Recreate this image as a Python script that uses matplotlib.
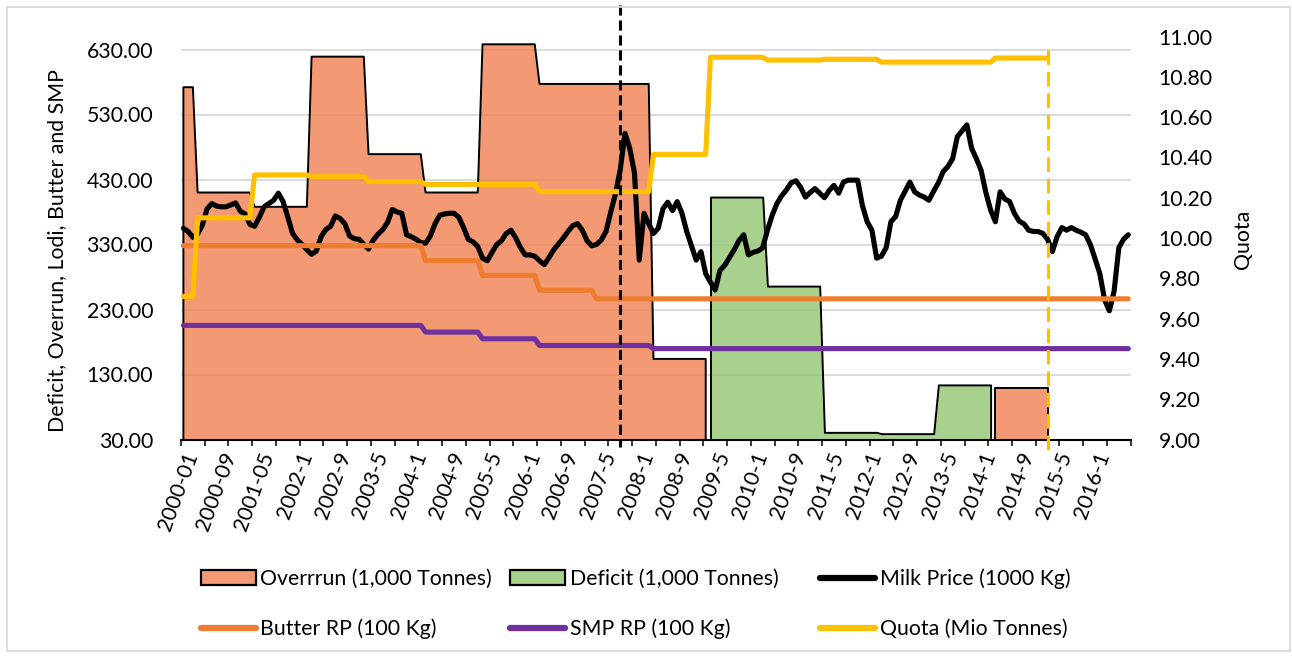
import numpy as np
import matplotlib
matplotlib.use("Agg")
import matplotlib.pyplot as plt
import matplotlib.transforms as mtransforms
from matplotlib.patches import Patch, Rectangle
from matplotlib.lines import Line2D
from matplotlib.ticker import FormatStrFormatter

plt.rcParams['font.family'] = ['Lato', 'DejaVu Sans']
FS = 15.3

# ---- data -----------------------------------------------------------------
# Monthly series from 2000-01 to 2016-08 (200 months), grouped by quota year
# (April - March).  First and last quota years are partial.
quota_year_labels = ['1999/00', '2000/01', '2001/02', '2002/03', '2003/04',
                     '2004/05', '2005/06', '2006/07', '2007/08', '2008/09',
                     '2009/10', '2010/11', '2011/12', '2012/13', '2013/14',
                     '2014/15', '2015/16', '2016/17']
months_in_chart = [3] + [12] * 16 + [5]

nan = np.nan
overrun_kt = [572, 410, 388, 619, 469, 410, 638, 577, 577, 154,
              nan, nan, nan, nan, nan, 109, nan, nan]
deficit_kt = [nan, nan, nan, nan, nan, nan, nan, nan, nan, nan,
              403, 266, 41, 39, 114, nan, nan, nan]
quota_mt = [9.71, 10.10, 10.313, 10.304, 10.28, 10.266, 10.266, 10.23, 10.23,
            10.415, 10.897, 10.883, 10.887, 10.873, 10.873, 10.893, nan, nan]
butter_rp = [328.20, 328.20, 328.20, 328.20, 328.20, 305.23, 282.44, 259.52,
             246.39, 246.39, 246.39, 246.39, 246.39, 246.39, 246.39, 246.39,
             246.39, 246.39]
smp_rp = [205.52, 205.52, 205.52, 205.52, 205.52, 195.24, 184.97, 174.69,
          174.69, 169.80, 169.80, 169.80, 169.80, 169.80, 169.80, 169.80,
          169.80, 169.80]

milk_price = [
    355, 350, 341, 346, 360, 385, 393, 389, 388, 388, 391, 394,   # 2000
    381, 377, 361, 358, 372, 388, 393, 398, 409, 396, 372, 347,   # 2001
    337, 330, 322, 315, 320, 342, 353, 358, 374, 370, 362, 343,   # 2002
    339, 338, 330, 323, 337, 346, 353, 364, 384, 380, 378, 345,   # 2003
    342, 338, 333, 332, 343, 362, 375, 377, 378, 378, 372, 356,   # 2004
    338, 334, 327, 309, 305, 318, 330, 336, 347, 352, 340, 325,   # 2005
    314, 314, 312, 305, 299, 310, 322, 331, 340, 350, 359, 362,   # 2006
    352, 336, 328, 330, 337, 350, 380, 408, 445, 501, 478, 440,   # 2007
    306, 378, 362, 347, 355, 385, 395, 382, 396, 378, 350, 328,   # 2008
    306, 319, 285, 272, 260, 290, 298, 310, 322, 336, 345, 314,   # 2009
    318, 320, 325, 352, 375, 393, 405, 414, 425, 428, 418, 403,   # 2010
    410, 416, 409, 402, 413, 421, 409, 426, 429, 429, 429, 390,   # 2011
    365, 352, 309, 312, 325, 365, 373, 398, 412, 426, 411, 406,   # 2012
    403, 398, 412, 425, 442, 450, 462, 496, 505, 514, 478, 462,   # 2013
    444, 410, 383, 365, 411, 400, 396, 378, 366, 362, 352, 350,   # 2014
    350, 347, 338, 319, 342, 356, 352, 356, 352, 349, 345, 330,   # 2015
    308, 285, 245, 228, 258, 325, 338, 345,                       # 2016
]

tick_labels = ['2000-01', '2000-09', '2001-05', '2002-1', '2002-9', '2003-5',
               '2004-1', '2004-9', '2005-5', '2006-1', '2006-9', '2007-5',
               '2008-1', '2008-9', '2009-5', '2010-1', '2010-9', '2011-5',
               '2012-1', '2012-9', '2013-5', '2014-1', '2014-9', '2015-5',
               '2016-1']
label_every = 8
tick_every = 5

marker_month = 92        # dashed black reference line (2007-09)
quota_end_month = 182    # end of the quota regime (2015-03)

# ---- monthly expansion ------------------------------------------------------
def monthly(values):
    return np.repeat(np.asarray(values, dtype=float), months_in_chart)

overrun = monthly(overrun_kt)
deficit = monthly(deficit_kt)
quota = monthly(quota_mt)
butter = monthly(butter_rp)
smp = monthly(smp_rp)
milk = np.asarray(milk_price, dtype=float)
n = len(milk)
x = np.arange(n) + 0.5          # category centres

# ---- figure -----------------------------------------------------------------
W, H = 1292, 657
fig = plt.figure(figsize=(W / 100, H / 100), dpi=100)
fig.patches.append(Rectangle((6.5 / W, 6.5 / H), (1290 - 6.5) / W, (650 - 6.5) / H,
                             transform=fig.transFigure, fill=False,
                             edgecolor='#D9D9D9', lw=1.3, zorder=0))

ax_l, ax_r, ax_t, ax_b = 181, 1130.7, 36.5, 439.5
ax = fig.add_axes([ax_l / W, 1 - ax_b / H, (ax_r - ax_l) / W, (ax_b - ax_t) / H])
ax.set_xlim(0, n)
ax.set_ylim(30, 650)
ax.set_yticks(np.arange(30, 631, 100))
ax.yaxis.set_major_formatter(FormatStrFormatter('%.2f'))
ax.yaxis.grid(True, color='#D9D9D9', lw=1.3)
ax.set_axisbelow(True)
for s in ('top', 'left', 'right'):
    ax.spines[s].set_visible(False)
ax.spines['bottom'].set_linewidth(1.5)
ax.tick_params(axis='y', length=0, pad=20, labelsize=FS)

# x axis: tick marks on category boundaries, labels on category centres
ax.set_xticks(np.arange(0, n + 1, tick_every))
ax.set_xticklabels([])
ax.tick_params(axis='x', which='major', length=4.5, width=1.1, direction='out')
ax.set_xticks(np.arange(0, n, label_every) + 0.5, minor=True)
ax.set_xticklabels(tick_labels, minor=True, rotation=70, ha='right', va='top',
                   rotation_mode='anchor', fontsize=FS)
ax.tick_params(axis='x', which='minor', length=0, pad=7)

overrun_face = (240 / 255, 128 / 255, 80 / 255, 0.8)
deficit_face = (148 / 255, 198 / 255, 114 / 255, 0.8)
ax.fill_between(x, overrun, 0, facecolor=overrun_face, edgecolor='black',
                lw=1.4, zorder=2)
ax.fill_between(x, deficit, 0, facecolor=deficit_face, edgecolor='black',
                lw=1.4, zorder=2)

line_kw = dict(lw=3.7, solid_joinstyle='round', solid_capstyle='round')
ax.plot(x, milk, color='black', zorder=3, **line_kw)
ax.plot(x, butter, color='#ED7D31', zorder=4, **line_kw)
ax.plot(x, smp, color='#7030A0', zorder=4, **line_kw)

ax2 = ax.twinx()
ax2.set_ylim(9, 11)
ax2.set_yticks(np.arange(9, 11.01, 0.2))
ax2.yaxis.set_major_formatter(FormatStrFormatter('%.2f'))
for s in ax2.spines.values():
    s.set_visible(False)
ax2.tick_params(axis='y', length=0, pad=20, labelsize=FS)
ax2.plot(x, quota, color='#FFC000', zorder=3, **line_kw)

# vertical reference lines (they reach beyond the plot area)
tb = mtransforms.blended_transform_factory(ax.transData, fig.transFigure)
ax2.plot([marker_month + 0.5] * 2, [1 - 5 / H, 1 - 447 / H], transform=tb,
         color='black', lw=2.2, dashes=(3.3, 1.6), clip_on=False, zorder=6)
ax2.plot([quota_end_month + 0.5] * 2, [1 - 50 / H, 1 - 456 / H], transform=tb,
         color='#FFC000', lw=2.2, dashes=(4.8, 2.2), clip_on=False, zorder=6)

# axis titles
fig.text(57.5 / W, 1 - 251 / H, 'Deficit, Overrun, Lodi, Butter and SMP',
         rotation=90, ha='center', va='center', fontsize=FS)
fig.text(1243 / W, 1 - 239.5 / H, 'Quota', rotation=90, ha='center',
         va='center', fontsize=FS)

# legend, laid out as three columns
leg_line = dict(lw=4.5, solid_capstyle='round')
columns = [
    (201, [Patch(facecolor=overrun_face, edgecolor='black', lw=1.6),
           Line2D([], [], color='#ED7D31', **leg_line)],
     ['Overrrun (1,000 Tonnes)', 'Butter RP (100 Kg)']),
    (510, [Patch(facecolor=deficit_face, edgecolor='black', lw=1.6),
           Line2D([], [], color='#7030A0', **leg_line)],
     ['Deficit (1,000 Tonnes)', 'SMP RP (100 Kg)']),
    (820, [Line2D([], [], color='black', **leg_line),
           Line2D([], [], color='#FFC000', **leg_line)],
     ['Milk Price (1000 Kg)', 'Quota (Mio Tonnes)']),
]
for xpx, handles, labels in columns:
    leg = fig.legend(handles, labels, loc='upper left',
                     bbox_to_anchor=(xpx / W, 1 - 568.5 / H),
                     bbox_transform=fig.transFigure, frameon=False,
                     fontsize=FS, borderpad=0, borderaxespad=0,
                     handlelength=2.6, handletextpad=0.2, labelspacing=1.41)

fig.savefig('out.png', dpi=100)
